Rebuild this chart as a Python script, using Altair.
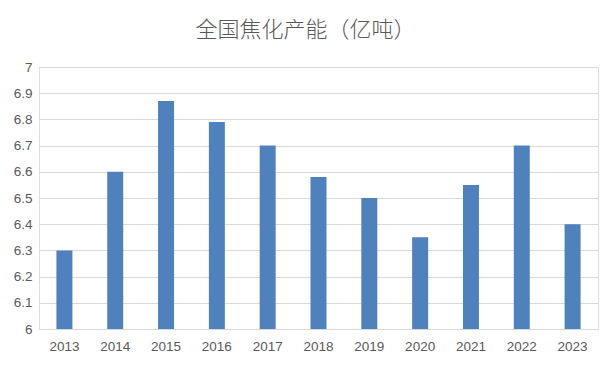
import altair as alt
import pandas as pd

years = ["2013", "2014", "2015", "2016", "2017", "2018", "2019", "2020", "2021", "2022", "2023"]
capacity = [6.30, 6.60, 6.87, 6.79, 6.70, 6.58, 6.50, 6.35, 6.55, 6.70, 6.40]
y_ticks = [6, 6.1, 6.2, 6.3, 6.4, 6.5, 6.6, 6.7, 6.8, 6.9, 7]

df = pd.DataFrame({"year": years, "cap": capacity})

chart = alt.Chart(df).mark_bar(color="#4F81BD", size=16).encode(
    x=alt.X("year:N", sort=years, title=None,
            scale=alt.Scale(paddingInner=0.0, paddingOuter=0.0),
            axis=alt.Axis(labelAngle=0, domain=False, ticks=False, labelPadding=10,
                          labelFontSize=13.5, labelColor="#595959", labelFont="Liberation Sans")),
    y=alt.Y("cap:Q", title=None,
            scale=alt.Scale(domain=[6, 7], zero=False, nice=False),
            axis=alt.Axis(values=y_ticks, format="~g",
                          domain=False, ticks=False, labelPadding=7,
                          gridColor="#D9D9D9", gridWidth=1,
                          labelFontSize=13.5, labelColor="#595959", labelFont="Liberation Sans")),
    y2=alt.datum(6),
).properties(
    width=559,
    height=262,
    title=alt.TitleParams("全国焦化产能（亿吨）", anchor="middle", frame="bounds",
                          font="Noto Sans CJK SC", fontSize=22, fontWeight=300,
                          color="#595959", offset=18),
    autosize=alt.AutoSizeParams(type="none"),
    padding={"left": 31, "top": 59, "right": 10, "bottom": 33},
).configure_view(stroke=None).configure(background="white")

chart.save("out.html", embed_options={"renderer": "svg", "actions": False})
